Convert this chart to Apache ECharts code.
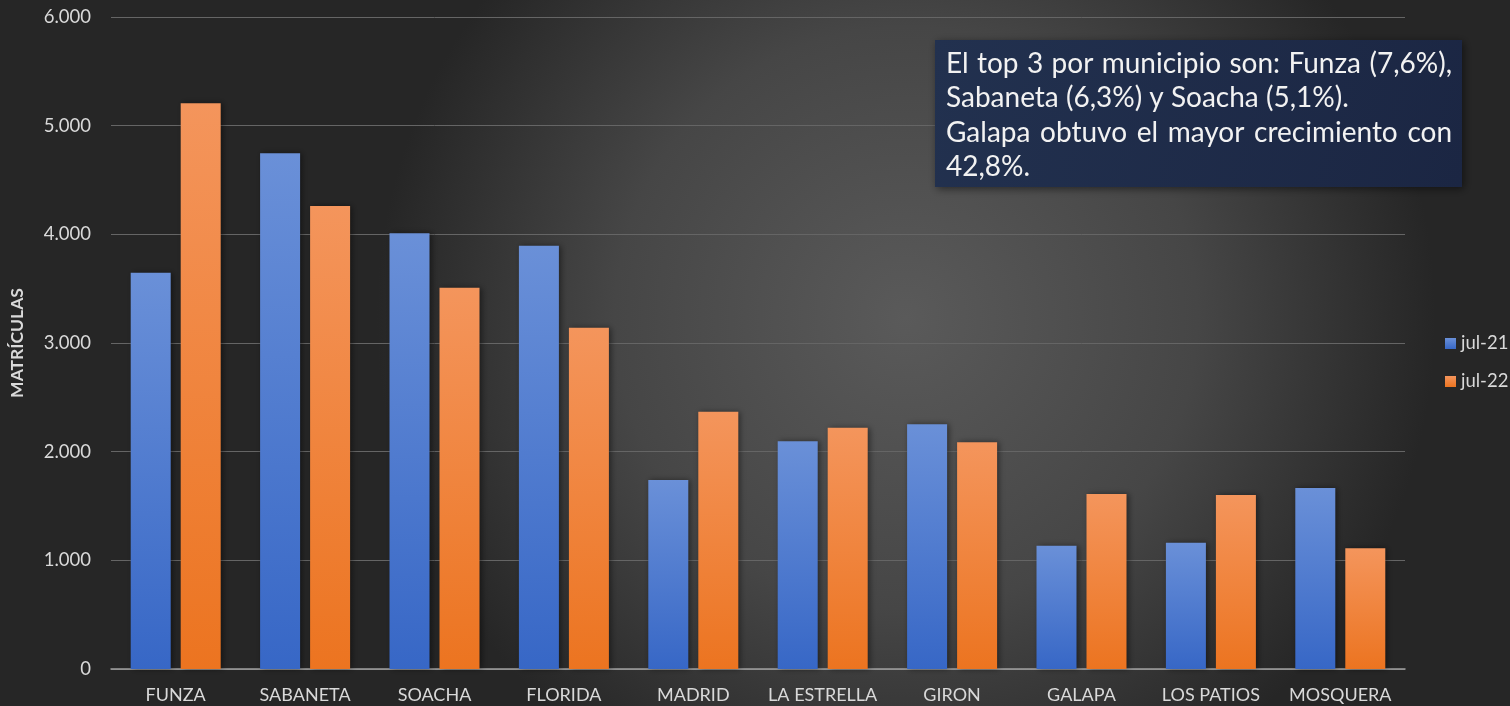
<!DOCTYPE html>
<html>
<head>
<meta charset="utf-8">
<script src="https://cdn.jsdelivr.net/npm/echarts@6/dist/echarts.min.js"></script>
<style>
html,body{margin:0;padding:0;background:#2b2b2b;}
#chart{width:1510px;height:706px;}
</style>
</head>
<body>
<div id="chart"></div>
<script>
var categories = ['FUNZA','SABANETA','SOACHA','FLORIDA','MADRID','LA ESTRELLA','GIRON','GALAPA','LOS PATIOS','MOSQUERA'];
var seriesNames = ['jul-21','jul-22'];
var jul21 = [3647, 4746, 4010, 3896, 1739, 2095, 2252, 1135, 1162, 1666];
var jul22 = [5206, 4261, 3509, 3141, 2368, 2221, 2086, 1610, 1601, 1111];
var yTicks = {min:0, max:6000, interval:1000};
var axisTitle = 'MATRÍCULAS';
var noteLines = [
  {text:'El top 3 por municipio son: Funza (7,6%),', justify:true},
  {text:'Sabaneta (6,3%) y Soacha (5,1%).', justify:false},
  {text:'Galapa obtuvo el mayor crecimiento con', justify:true},
  {text:'42,8%.', justify:false}
];

function fmt(v){ return String(v).replace(/\B(?=(\d{3})+(?!\d))/g,'.'); }

var FONT = 'Lato, "Open Sans", sans-serif';
var chart = echarts.init(document.getElementById('chart'));

// text box with justified lines
var boxX = 935, boxY = 40, boxW = 527, boxH = 147;
var padL = 11, padR = 10, lineTop = 63.5, lineH = 34.5;
var mctx = document.createElement('canvas').getContext('2d');
mctx.font = '28px ' + FONT;
// size the font so the second (unjustified) line spans ~473px as in the reference
var noteSize = Math.min(28, 28 * 473 / mctx.measureText(noteLines[1].text).width);
mctx.font = noteSize + 'px ' + FONT;
var noteChildren = [];
noteLines.forEach(function(l, i){
  var y = lineTop + i*lineH;
  if (!l.justify) {
    noteChildren.push({type:'text', z:20, style:{text:l.text, x:boxX+padL, y:y, font:noteSize+'px '+FONT, fill:'#f2f2f2', verticalAlign:'middle', align:'left'}});
  } else {
    var words = l.text.split(' ');
    var total = 0;
    words.forEach(function(w){ total += mctx.measureText(w).width; });
    var avail = boxW - padL - padR;
    var gap = (avail - total) / (words.length - 1);
    var x = boxX + padL;
    words.forEach(function(w){
      noteChildren.push({type:'text', z:20, style:{text:w, x:x, y:y, font:noteSize+'px '+FONT, fill:'#f2f2f2', verticalAlign:'middle', align:'left'}});
      x += mctx.measureText(w).width + gap;
    });
  }
});

function grad(c1, c2){
  return new echarts.graphic.LinearGradient(0,0,0,1,[{offset:0,color:c1},{offset:1,color:c2}]);
}

var graphics = [
  {type:'rect', z:10, shape:{x:boxX, y:boxY, width:boxW, height:boxH},
   style:{fill:new echarts.graphic.LinearGradient(0,0,1,1,[{offset:0,color:'#22314f'},{offset:1,color:'#1b2643'}]),
          shadowBlur:8, shadowColor:'rgba(0,0,0,0.5)', shadowOffsetX:2, shadowOffsetY:2}}
].concat(noteChildren);

var option = {
  color:['#4472c4','#ed7d31'],
  backgroundColor: new echarts.graphic.RadialGradient(0.6, 0.45, 0.75, [
    {offset:0, color:'#5a5a5a'},
    {offset:0.55, color:'#464646'},
    {offset:1, color:'#262626'}
  ]),
  animation:false,
  grid:{left:106, right:105, top:17, bottom:37},
  legend:{
    orient:'vertical', left:1440, top:329, itemWidth:11, itemHeight:11, itemGap:19,
    icon:'rect',
    textStyle:{color:'#d9d9d9', fontSize:18.5, fontFamily:FONT},
    data:seriesNames
  },
  xAxis:{
    type:'category', data:categories,
    axisLine:{lineStyle:{color:'#a0a0a0', width:1.5}},
    axisTick:{show:false},
    axisLabel:{color:'#d9d9d9', fontSize:18, fontFamily:FONT, margin:17, interval:0}
  },
  yAxis:{
    type:'value', min:yTicks.min, max:yTicks.max, interval:yTicks.interval,
    name:axisTitle, nameLocation:'middle', nameGap:85, nameRotate:90,
    nameTextStyle:{color:'#d9d9d9', fontSize:17.5, fontWeight:'bold', fontFamily:FONT},
    axisLine:{show:false}, axisTick:{show:false},
    axisLabel:{color:'#d9d9d9', fontSize:18.5, fontFamily:FONT, margin:20, formatter:function(v){return fmt(v);}},
    splitLine:{lineStyle:{color:'#656565', width:1}}
  },
  series:[
    {name:seriesNames[0], type:'bar', data:jul21, barWidth:40, barGap:'25%',
     itemStyle:{color:grad('#6a90d8','#3767c6'), shadowBlur:6, shadowColor:'rgba(0,0,0,0.45)', shadowOffsetX:2, shadowOffsetY:0}},
    {name:seriesNames[1], type:'bar', data:jul22, barWidth:40,
     itemStyle:{color:grad('#f4955c','#ec7420'), shadowBlur:6, shadowColor:'rgba(0,0,0,0.45)', shadowOffsetX:2, shadowOffsetY:0}}
  ],
  graphic:graphics
};
chart.setOption(option);
</script>
</body>
</html>
